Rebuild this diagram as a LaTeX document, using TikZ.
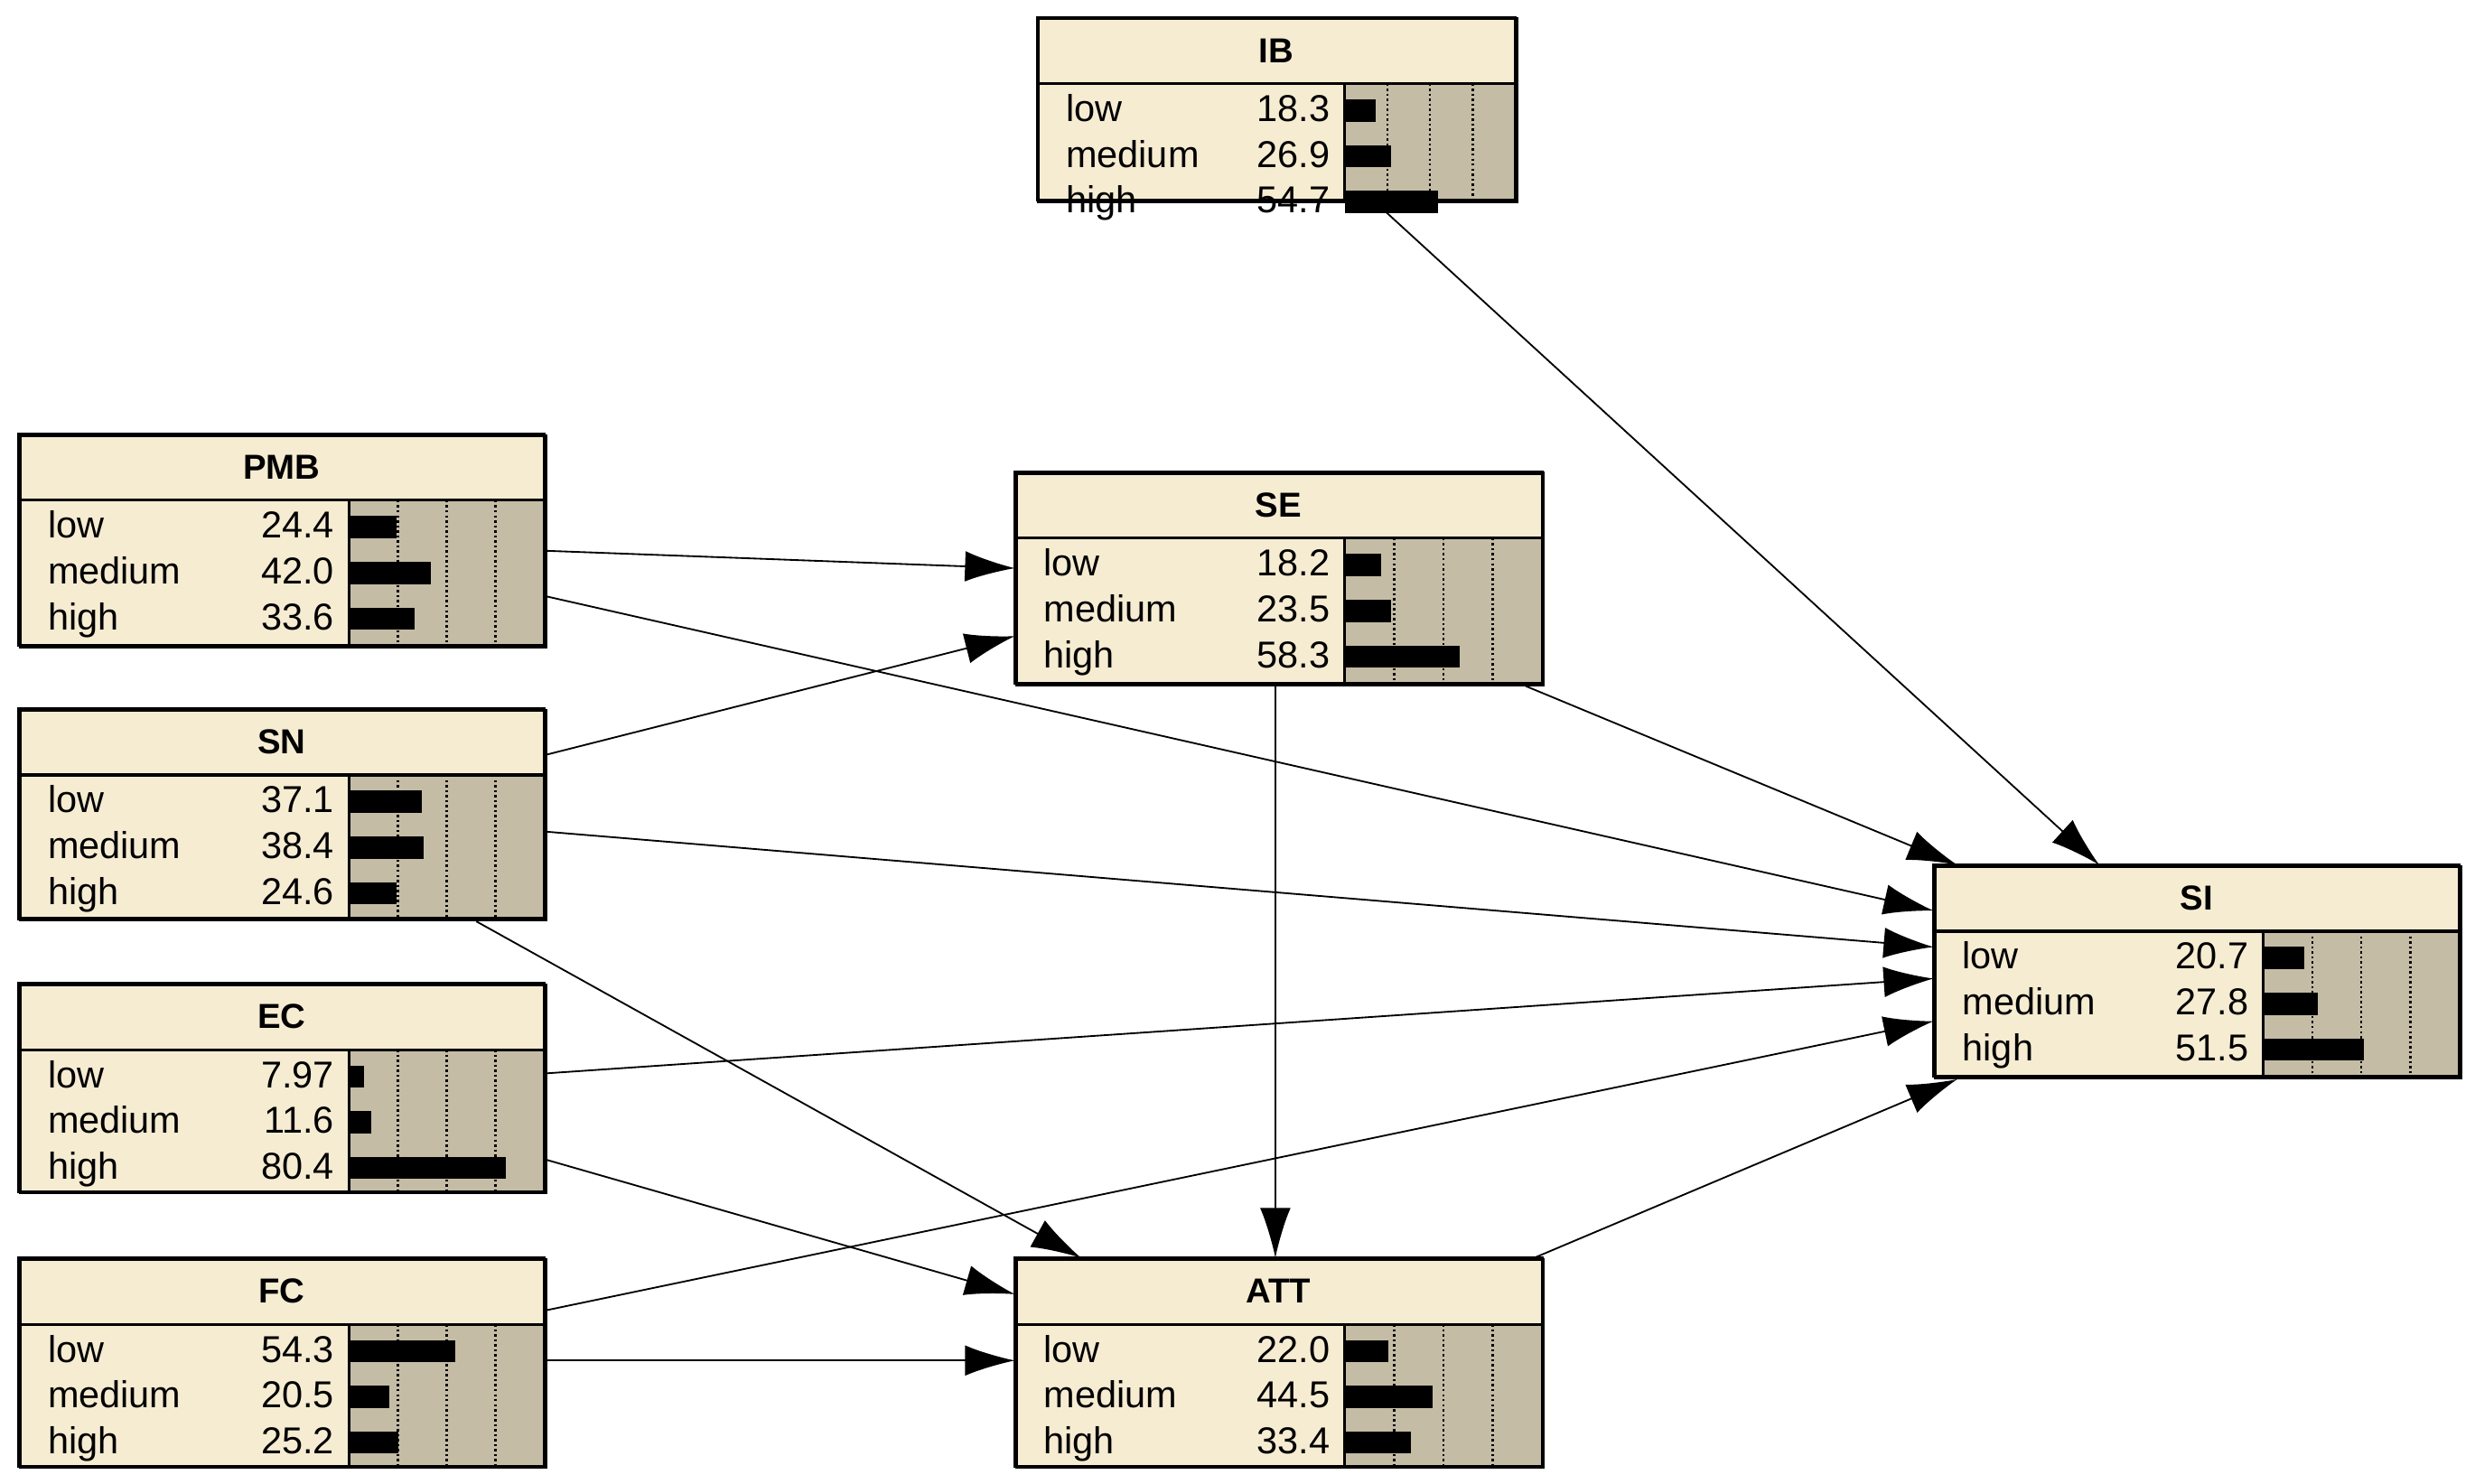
\documentclass[tikz,border=0pt]{standalone}
\usepackage{fontspec}
\setmainfont{Liberation Sans}
\usetikzlibrary{arrows.meta,calc}
\definecolor{cream}{HTML}{F6ECD2}
\definecolor{barbg}{HTML}{C5BCA6}
\tikzset{
  edge/.style={-{Latex[length=18pt,width=11pt]}, line width=0.6pt},
  box/.style={draw, line width=1pt, fill=cream, inner sep=0pt, anchor=north west},
  lbl/.style={font=\fontsize{13.5}{14}\selectfont, anchor=base west, inner sep=0pt},
  num/.style={font=\fontsize{13.5}{14}\selectfont, anchor=base east, inner sep=0pt},
  ttl/.style={font=\fontsize{12.5}{13}\selectfont\bfseries, inner sep=0pt},
}
% name, x1, y1, x2, y2, barx, title, v1, v2, v3
\newcommand{\bnode}[9]{%
  \pgfmathsetmacro{\bw}{(#4-#2)*0.02}%
  \pgfmathsetmacro{\bh}{(#5-#3)*0.02}%
  \node[box, minimum width=\bw cm, minimum height=\bh cm] (#1) at (#2,#3) {};
  \fill[barbg] (#6,#3+42) rectangle (#4,#5);
  \draw[line width=1pt] (#2,#3) rectangle (#4,#5);
  \draw[line width=1pt] (#2,#3+42) -- (#4,#3+42);
  \draw[line width=1pt] (#6,#3+42) -- (#6,#5);
  \pgfmathsetmacro{\bwid}{#4-#6}%
  \foreach \k in {1,2,3} \draw[densely dotted, line width=0.8pt] (#6+\k*\bwid/4,#3+42) -- (#6+\k*\bwid/4,#5);
  \node[ttl] at ({(#2+#4)/2},#3+21) {#7};
  \bars{#2}{#3}{#6}{\bwid}#8#9%
}
\newcommand{\bars}[7]{%
  \node[lbl] at (#1+18,#2+66) {low};
  \node[lbl] at (#1+18,#2+95) {medium};
  \node[lbl] at (#1+18,#2+124) {high};
  \node[num] at (#3-9,#2+66) {#5};
  \node[num] at (#3-9,#2+95) {#6};
  \node[num] at (#3-9,#2+124) {#7};
  \fill (#3,#2+52) rectangle (#3+#4*#5/100,#2+66);
  \fill (#3,#2+81) rectangle (#3+#4*#6/100,#2+95);
  \fill (#3,#2+110) rectangle (#3+#4*#7/100,#2+124);
}
\begin{document}
\begin{tikzpicture}[x=0.02cm,y=-0.02cm]
\useasboundingbox (0,0) rectangle (1568,940);
\bnode{IB}{657}{11}{960}{127}{852}{IB}{{18.3}}{{26.9}{54.7}}
\bnode{PMB}{12}{275}{345}{409}{221}{PMB}{{24.4}}{{42.0}{33.6}}
\bnode{SE}{643}{299}{977}{433}{852}{SE}{{18.2}}{{23.5}{58.3}}
\bnode{SN}{12}{449}{345}{582}{221}{SN}{{37.1}}{{38.4}{24.6}}
\bnode{EC}{12}{623}{345}{755}{221}{EC}{{7.97}}{{11.6}{80.4}}
\bnode{FC}{12}{797}{345}{929}{221}{FC}{{54.3}}{{20.5}{25.2}}
\bnode{ATT}{643}{797}{977}{929}{852}{ATT}{{22.0}}{{44.5}{33.4}}
\bnode{SI}{1225}{548}{1558}{682}{1434}{SI}{{20.7}}{{27.8}{51.5}}
% edges
\draw[edge] ([yshift=-1.48cm]PMB.north east) -- ([yshift=-1.22cm]SE.north west);
\draw[edge] ([yshift=-2.06cm]PMB.north east) -- ([yshift=-0.58cm]SI.north west);
\draw[edge] ([yshift=-0.58cm]SN.north east) -- ([yshift=-2.08cm]SE.north west);
\draw[edge] ([yshift=-1.56cm]SN.north east) -- ([yshift=-1.04cm]SI.north west);
\draw[edge] ([xshift=-0.9cm]SN.south east) -- ([xshift=0.84cm]ATT.north west);
\draw[edge] ([yshift=-1.14cm]EC.north east) -- ([yshift=-1.44cm]SI.north west);
\draw[edge] ([yshift=-2.24cm]EC.north east) -- ([yshift=-0.46cm]ATT.north west);
\draw[edge] ([yshift=-0.66cm]FC.north east) -- ([yshift=-1.98cm]SI.north west);
\draw[edge] ([yshift=-1.30cm]FC.north east) -- ([yshift=-1.30cm]ATT.north west);
\draw[edge] ([xshift=3.3cm]SE.south west) -- ([xshift=3.3cm]ATT.north west);
\draw[edge] ([xshift=-0.24cm]SE.south east) -- ([xshift=0.3cm]SI.north west);
\draw[edge] ([xshift=4.3cm]IB.south west) -- ([xshift=2.1cm]SI.north west);
\draw[edge] ([xshift=-0.14cm]ATT.north east) -- ([xshift=0.3cm]SI.south west);
\end{tikzpicture}
\end{document}
